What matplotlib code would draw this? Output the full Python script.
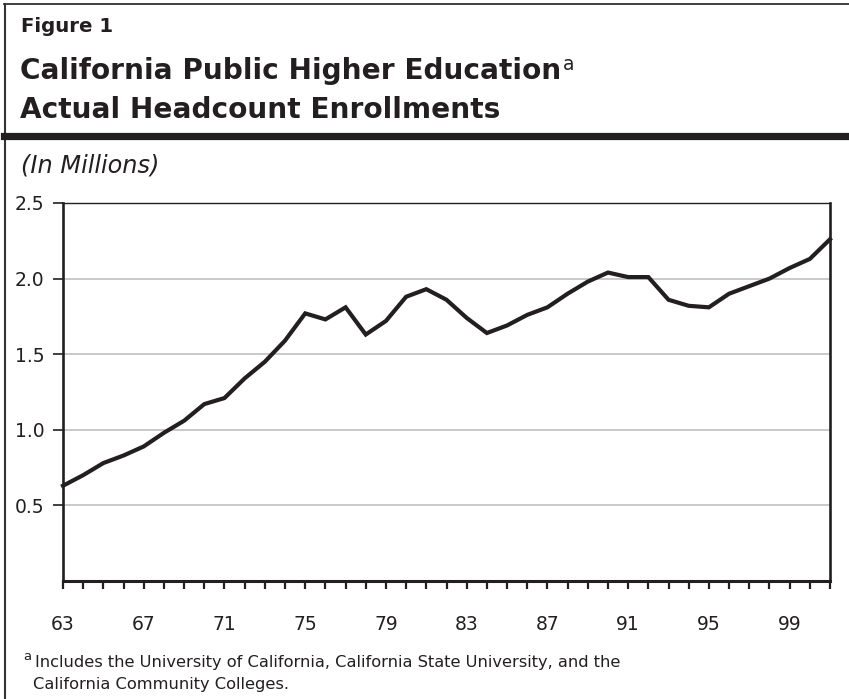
import numpy as np
import matplotlib
matplotlib.use("Agg")
import matplotlib.pyplot as plt
from matplotlib.lines import Line2D

# Headcount enrollments, millions
years = list(range(63, 102))
enrollments = [0.63, 0.70, 0.78, 0.83, 0.89, 0.98, 1.06, 1.17, 1.21, 1.34,
               1.45, 1.59, 1.77, 1.73, 1.81, 1.63, 1.72, 1.88, 1.93, 1.86,
               1.74, 1.64, 1.69, 1.76, 1.81, 1.90, 1.98, 2.04, 2.01, 2.01,
               1.86, 1.82, 1.81, 1.90, 1.95, 2.00, 2.07, 2.13, 2.26]

x_label_years = [63, 67, 71, 75, 79, 83, 87, 91, 95, 99]
x_labels = ["63", "67", "71", "75", "79", "83", "87", "91", "95", "99"]
y_ticks = [0.5, 1.0, 1.5, 2.0, 2.5]
y_labels = ["0.5", "1.0", "1.5", "2.0", "2.5"]

INK = "#231f20"
W, H = 849, 699

fig = plt.figure(figsize=(W / 100, H / 100), dpi=100)
fig.patch.set_facecolor("white")

def fx(px):
    return px / W

def fy(py):
    return 1 - py / H

# frame lines of the figure box
fig.add_artist(Line2D([fx(5), fx(5)], [fy(3.5), 0], color="#333333", lw=1.5))
fig.add_artist(Line2D([fx(4.3), 1], [fy(3.5), fy(3.5)], color="#333333", lw=1.3))
fig.add_artist(Line2D([fx(4.3), 1], [fy(136), fy(136)], color=INK, lw=5.2))

# header text
fig.text(fx(21), fy(26), "Figure 1", fontsize=14.2, fontweight="bold",
         color=INK, va="center", ha="left")
t1 = fig.text(fx(20), fy(71), "California Public Higher Education", fontsize=20.2,
              fontweight="bold", color=INK, va="center", ha="left")
fig.text(fx(20), fy(110), "Actual Headcount Enrollments", fontsize=20.2,
         fontweight="bold", color=INK, va="center", ha="left")
fig.text(fx(21), fy(165), "(In Millions)", fontsize=17.3, fontstyle="italic",
         color=INK, va="center", ha="left")

fig.canvas.draw()
bb = t1.get_window_extent()
fig.text(bb.x1 / W + fx(2), fy(64), "a", fontsize=13.5, color=INK,
         va="center", ha="left")

# chart area
ax = fig.add_axes([fx(63), fy(581), fx(830) - fx(63), fy(203) - fy(581)])
ax.plot(years, enrollments, color=INK, lw=3.0, solid_joinstyle="miter",
        clip_on=False, zorder=3)

ax.set_xlim(63, 101)
ax.set_ylim(0, 2.5)

ax.set_yticks(y_ticks)
ax.set_yticklabels(y_labels)
ax.set_xticks(x_label_years)
ax.set_xticklabels(x_labels)
ax.set_xticks(years, minor=True)

ax.tick_params(axis="y", which="major", direction="out", length=7.5, width=1.2,
               pad=6, labelsize=13.5, colors=INK)
ax.tick_params(axis="x", which="both", direction="out", length=5.5, width=1.6,
               colors=INK)
ax.tick_params(axis="x", which="major", pad=19, labelsize=13.5)

for v in y_ticks[:-1]:
    ax.axhline(v, color="#c0c0c0", lw=1.2, zorder=1)

ax.spines["left"].set_linewidth(1.9)
ax.spines["bottom"].set_linewidth(2.2)
ax.spines["right"].set_linewidth(1.9)
ax.spines["top"].set_linewidth(1.0)
for s in ax.spines.values():
    s.set_color(INK)

# footnote
fig.text(fx(23), fy(656), "a", fontsize=9.5, color=INK, va="center", ha="left")
fig.text(fx(35), fy(662), "Includes the University of California, California State University, and the",
         fontsize=11.7, color=INK, va="center", ha="left")
fig.text(fx(33), fy(685), "California Community Colleges.",
         fontsize=11.7, color=INK, va="center", ha="left")

fig.savefig("out.png", dpi=100, facecolor="white")
